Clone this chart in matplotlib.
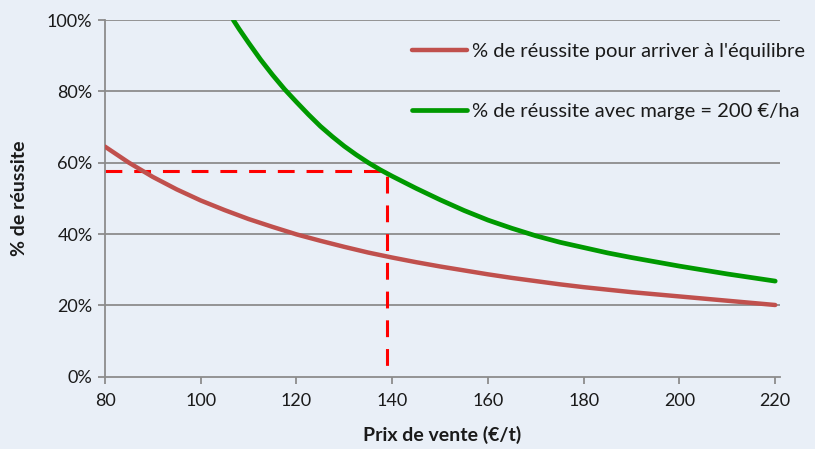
import matplotlib
matplotlib.use("Agg")
import matplotlib.pyplot as plt
from matplotlib.ticker import FuncFormatter

plt.rcParams['font.family'] = ['Lato', 'DejaVu Sans']

# Data
prix_eq = [80, 85, 90, 95, 100, 105, 110, 115, 120, 125, 130, 135, 140, 145, 150,
           155, 160, 165, 170, 175, 180, 185, 190, 195, 200, 205, 210, 215, 220]
reussite_eq = [64.5, 60.0, 56.0, 52.5, 49.4, 46.7, 44.2, 42.0, 39.9, 38.1, 36.4, 34.8, 33.4, 32.1, 30.9,
               29.8, 28.7, 27.7, 26.8, 25.9, 25.1, 24.4, 23.7, 23.1, 22.5, 21.9, 21.3, 20.7, 20.1]

prix_marge = [106.8, 108, 110, 112.5, 115, 117.5, 120, 122.5, 125, 127.5, 130, 132.5, 135, 137.5,
              140, 145, 150, 155, 160, 165, 170, 175, 180, 185, 190, 195, 200, 205, 210, 215, 220]
reussite_marge = [100.0, 97.5, 93.6, 88.9, 84.6, 80.6, 77.0, 73.5, 70.2, 67.3, 64.6, 62.2, 60.0, 58.0,
                  56.2, 52.8, 49.6, 46.6, 43.9, 41.6, 39.5, 37.7, 36.2, 34.7, 33.4, 32.2, 31.0, 29.9, 28.8, 27.8, 26.8]

seuil_prix = 139
seuil_reussite = 57.8

label_eq = "% de réussite pour arriver à l'équilibre"
label_marge = "% de réussite avec marge = 200 €/ha"
xlabel = "Prix de vente (€/t)"
ylabel = "% de réussite"
xticks = [80, 100, 120, 140, 160, 180, 200, 220]
yticks = [0, 20, 40, 60, 80, 100]

bg = '#e9eff7'
fig = plt.figure(figsize=(8.15, 4.49), dpi=100, facecolor=bg)
ax = fig.add_axes([105/815, 1-376.7/449, 675/815, 356.7/449])
ax.set_facecolor(bg)

grid_c = '#8c8c8c'
for y in yticks[1:]:
    ax.axhline(y, color=grid_c, lw=1.3, zorder=1)

ax.plot([prix_eq[0], seuil_prix, seuil_prix], [seuil_reussite, seuil_reussite, 0],
        color='#ff0000', lw=2.2, dashes=(5.5, 3.9), zorder=2, solid_capstyle='butt')
ax.plot(prix_eq, reussite_eq, color='#c0504d', lw=3.2, solid_capstyle='round',
        solid_joinstyle='round', zorder=3, label=label_eq)
ax.plot(prix_marge, reussite_marge, color='#009900', lw=3.4, solid_capstyle='round',
        solid_joinstyle='round', zorder=3, label=label_marge)

ax.set_xlim(80, 221)
ax.set_ylim(0, 100)
ax.set_xticks(xticks)
ax.set_yticks(yticks)
ax.yaxis.set_major_formatter(FuncFormatter(lambda v, p: f"{int(v)}%"))

for s in ['top', 'right']:
    ax.spines[s].set_visible(False)
for s in ['left', 'bottom']:
    ax.spines[s].set_color(grid_c)
    ax.spines[s].set_linewidth(1.3)
ax.tick_params(axis='both', colors=grid_c, length=5, width=1.3, labelsize=13,
               labelcolor='#1a1a1a')
ax.tick_params(axis='x', pad=7)
ax.tick_params(axis='y', pad=4)

ax.set_xlabel(xlabel, fontsize=14, fontweight='bold', color='#1a1a1a', labelpad=12)
ax.set_ylabel(ylabel, fontsize=14, fontweight='bold', color='#1a1a1a', labelpad=14)

leg = ax.legend(loc='upper left', bbox_to_anchor=((412 - 105) / 675, (376.7 - 43) / 356.7),
                frameon=False, fontsize=14.5, handlelength=2.74, handletextpad=0.25,
                labelspacing=2.15, borderaxespad=0, borderpad=0)
for t in leg.get_texts():
    t.set_color('#1a1a1a')

fig.savefig('out.png', dpi=100, facecolor=bg)
